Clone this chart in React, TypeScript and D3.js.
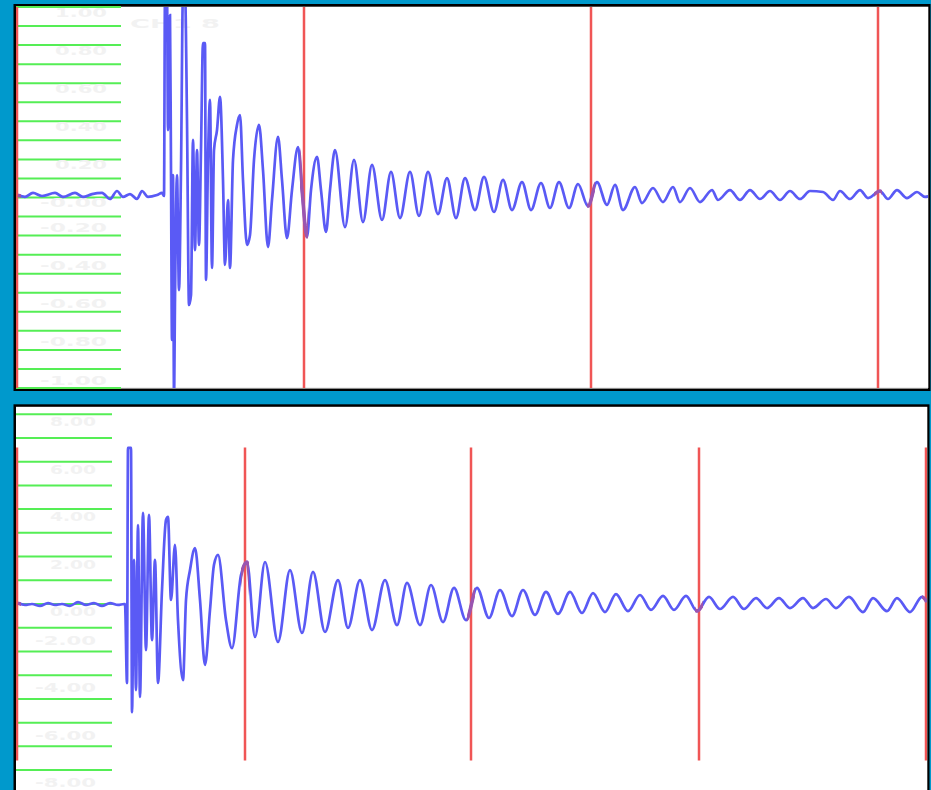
import React from 'react';
import * as d3 from 'd3';

// ---------- data ----------
// Top channel: time (ms) and amplitude (V)
const topTime = [
  0.2, 0.9, 1.7, 2.6, 3.9, 4.7, 5.9, 6.7, 7.6, 8.6, 9.4, 10.1, 10.7, 11.4, 12.1, 12.6, 13.2, 14.1, 14.6,
  14.8, 14.9, 15.1, 15.2, 15.4, 15.5, 15.6, 15.7, 15.8, 15.9, 16.1, 16.3, 16.5, 16.7, 16.9, 17.1, 17.3, 17.5,
  17.7, 17.9, 18.1, 18.3, 18.5, 18.7, 18.9, 19.0, 19.2, 19.4, 19.6, 19.8, 20.1, 20.4, 20.7, 20.9, 21.2, 21.4,
  21.7, 22.1, 22.4, 22.7, 23.1, 23.4, 23.8, 24.3, 24.7, 25.2, 25.6, 26.2, 26.6, 27.1, 27.6, 28.2, 28.6, 29.1,
  29.5, 30.1, 30.5, 31.0, 31.4, 31.9, 32.9, 33.8, 34.7, 35.6, 36.6, 37.5, 38.4, 39.4, 40.3, 41.2, 42.2, 43.1,
  44.0, 44.9, 45.9, 46.8, 47.8, 48.7, 49.6, 50.6, 51.5, 52.5, 53.4, 54.3, 55.3, 56.2, 57.2, 58.1,
  59.1, 59.9, 60.7, 61.9, 62.6, 63.7, 64.7, 65.7, 66.4, 67.4, 68.4, 69.6, 70.2, 71.4, 72.4, 73.4, 74.4, 75.4,
  76.4, 77.4, 78.4, 79.4, 80.7, 81.7, 82.4, 83.4, 84.4, 85.2, 86.4, 87.2, 88.1, 89.1, 90.1, 90.9, 91.4,
];
const topValue = [
  0.013, 0.003, 0.024, 0.008, 0.024, 0.003, 0.024, 0.003, 0.018, 0.024, -0.008, 0.034, 0.003, 0.018, -0.008, 0.034, 0.003, 0.013, 0.024,
  0.008, 1.08, 1.08, 0.354, 0.958, 0.144, -0.748, 0.118, -1.05, -0.538, 0.118, -0.486, 0.144, 1.08, 1.08, 0.407, -0.564, -0.512,
  0.302, -0.276, 0.249, -0.249, 0.249, 0.811, 0.811, -0.433, 0.197, 0.512, -0.37, 0.249, 0.354, 0.528, 0.092, -0.354, -0.013, -0.37,
  0.197, 0.381, 0.433, 0.092, -0.249, -0.197, 0.197, 0.381, 0.144, -0.26, -0.013, 0.318, 0.092, -0.213, 0.039, 0.265, 0.039, -0.207,
  0.039, 0.213, 0.039, -0.181, 0.039, 0.249, -0.155, 0.197, -0.129, 0.171, -0.118, 0.134, -0.108, 0.134, -0.097, 0.134, -0.087, 0.102,
  -0.108, 0.102, -0.066, 0.108, -0.076, 0.092, -0.066, 0.081, -0.066, 0.076, -0.055, 0.081, -0.055, 0.071, -0.045, 0.081,
  -0.039, 0.066, -0.066, 0.055, -0.029, 0.05, -0.024, 0.055, -0.024, 0.05, -0.024, 0.039, -0.013, 0.039, -0.013, 0.039, -0.008, 0.034,
  -0.013, 0.034, -0.008, 0.034, 0.029, -0.013, 0.034, -0.008, 0.039, -0.003, 0.034, -0.008, 0.039, -0.003, 0.029, 0.003, 0.008,
];

// Bottom channel: time (ms) and amplitude (V)
const botTime = [
  0.2, 0.9, 1.6, 2.4, 3.2, 3.9, 4.6, 5.4, 6.2, 7.0, 7.8, 8.6, 9.4, 10.2, 10.8,
  10.9, 11.1, 11.2, 11.5, 11.6, 11.8, 12.0, 12.2, 12.4, 12.7, 13.0, 13.3, 13.6, 13.9, 14.2, 14.6, 15.0, 15.2,
  15.5, 15.9, 16.2, 16.7, 17.0, 17.4, 17.9, 18.4, 18.9, 19.4, 19.8, 20.2, 21.0, 21.6, 22.5, 23.1, 23.9, 24.9,
  26.2, 27.4, 28.6, 29.7, 30.9, 32.2, 33.2, 34.4, 35.6, 36.9, 38.1, 39.1, 40.4, 41.5, 42.7, 43.8, 45.0, 46.1,
  47.3, 48.4, 49.6, 50.7, 51.9, 53.0, 54.2, 55.4, 56.6, 57.7, 58.9, 60.0, 61.2, 62.4, 63.5, 64.7, 65.8, 67.0,
  68.1, 69.3, 70.4, 71.7, 72.8, 74.0, 75.1, 76.3, 77.4, 78.7, 79.7, 81.0, 82.0, 83.3, 84.7, 85.7, 87.1, 88.1,
  89.4, 90.6, 91.1,
];
const botValue = [
  0.04, -0.04, 0, -0.08, 0.04, -0.04, 0, -0.08, 0.08, -0.04, 0.04, -0.08, 0.04, -0.04, 0,
  0, -3.33, 6.58, 6.58, -4.56, 1.86, -3.63, 3.33, -3.92, 3.84, -1.94, 3.76, -1.52, 1.86, -3.33, 0.59, 3.54, 3.67,
  0.17, 2.49, -0.68, -3.21, 0.17, 1.43, 2.36, 0.17, -2.57, -0.25, 1.65, 2.07, -0.68, -1.86, 1.22, 1.77, -1.39, 1.77,
  -1.6, 1.43, -1.22, 1.35, -1.18, 1.01, -1.01, 1.01, -1.1, 1.01, -0.89, 0.89, -0.89, 0.8, -0.76, 0.68, -0.68, 0.68,
  -0.59, 0.59, -0.51, 0.59, -0.46, 0.51, -0.42, 0.51, -0.38, 0.46, -0.34, 0.42, -0.3, 0.38, -0.25, 0.34, -0.25, 0.34,
  -0.3, 0.3, -0.21, 0.3, -0.21, 0.25, -0.17, 0.25, -0.17, 0.25, -0.17, 0.21, -0.17, 0.3, -0.34, 0.25, -0.3, 0.25,
  -0.34, 0.3, 0.08,
];

// cursors (ms)
const topCursors = [0.1, 28.8, 57.5, 86.2];
const botCursors = [0.1, 22.9, 45.5, 68.3, 91.0];

// grid & tick labels
const topGrid = [1, 0.9, 0.8, 0.7, 0.6, 0.5, 0.4, 0.3, 0.2, 0.1, 0, -0.1, -0.2, -0.3, -0.4, -0.5, -0.6, -0.7, -0.8, -0.9, -1];
const topTickValues = [1, 0.8, 0.6, 0.4, 0.2, 0, -0.2, -0.4, -0.6, -0.8, -1];
const topTickLabels = ['1.00', '0.80', '0.60', '0.40', '0.20', '-0.00', '-0.20', '-0.40', '-0.60', '-0.80', '-1.00'];
const botGrid = [8, 7, 6, 5, 4, 3, 2, 1, 0, -1, -2, -3, -4, -5, -6, -7];
const botTickValues = [8, 6, 4, 2, 0, -2, -4, -6, -8];
const botTickLabels = ['8.00', '6.00', '4.00', '2.00', '0.00', '-2.00', '-4.00', '-6.00', '-8.00'];
const channelTitle = ['CH1  8'];

export default function App() {
  const width = 931;
  const height = 790;
  const BG = '#0099cc';
  const WAVE = '#5a5af5';
  const RED = '#f05555';
  const GREEN = '#55ee55';
  const PURPLE = '#9a55b0';
  const LABEL = '#f2f2f2';

  const xTop = d3.scaleLinear().domain([0, 91.4]).range([16, 930]);
  const yTop = d3.scaleLinear().domain([-1, 1]).range([388, 7]);
  const xBot = d3.scaleLinear().domain([0, 91.4]).range([16, 930]);
  const yBot = d3.scaleLinear().domain([-8, 8]).range([793.8, 414.2]);

  const topPath = d3
    .line<number>()
    .curve(d3.curveMonotoneX)
    .x((_, i) => xTop(topTime[i]))
    .y((d) => yTop(d))(topValue) as string;
  const botPath = d3
    .line<number>()
    .curve(d3.curveMonotoneX)
    .x((_, i) => xBot(botTime[i]))
    .y((d) => yBot(d))(botValue) as string;

  const label = (text: string, right: number, y: number, digitsW: number, key: string) => {
    const neg = text.startsWith('-');
    const w = neg ? digitsW + 15 : digitsW;
    return (
      <text
        key={key}
        x={right - w}
        y={y}
        textLength={w}
        lengthAdjust="spacingAndGlyphs"
        fontFamily="DejaVu Sans, sans-serif"
        fontWeight="bold"
        fontSize={12}
        fill={LABEL}
        dominantBaseline="central"
      >
        {text}
      </text>
    );
  };

  return (
    <svg width={width} height={height} style={{ position: 'absolute', left: 0, top: 0, display: 'block' }}>
      <defs>
        <clipPath id="clipTop">
          <rect x={16} y={7} width={912} height={381} />
        </clipPath>
        <clipPath id="clipBot">
          <rect x={16} y={407} width={911} height={383} />
        </clipPath>
        {topCursors.map((c, i) => (
          <clipPath id={`ct${i}`} key={i}>
            <rect x={xTop(c) - 4} y={7} width={8} height={381} />
          </clipPath>
        ))}
        {botCursors.map((c, i) => (
          <clipPath id={`cb${i}`} key={i}>
            <rect x={xBot(c) - 4} y={407} width={8} height={383} />
          </clipPath>
        ))}
      </defs>
      <rect x={0} y={0} width={width} height={height} fill={BG} />

      {/* ---------- top panel ---------- */}
      <rect x={13.5} y={4} width={917} height={387} fill="#000" />
      <rect x={16} y={6.7} width={912.3} height={381.3} fill="#fff" />
      <line x1={16} x2={928} y1={388.2} y2={388.2} stroke="#cccccc" strokeWidth={1} />
      <g>
        {topGrid.map((v, i) => (
          <line key={i} x1={16} x2={121} y1={yTop(v)} y2={yTop(v)} stroke={GREEN} strokeWidth={2} />
        ))}
        {topTickValues.map((v, i) =>
          label(topTickLabels[i], 107, yTop(v) + (v >= 0 ? 5.5 : -7.5), 52, `tl${i}`)
        )}
        <text
          x={130}
          y={24}
          textLength={90}
          lengthAdjust="spacingAndGlyphs"
          fontFamily="DejaVu Sans, sans-serif"
          fontWeight="bold"
          fontSize={12}
          fill={LABEL}
          dominantBaseline="central"
        >
          {channelTitle[0]}
        </text>
      </g>
      <g clipPath="url(#clipTop)">
        <path d={topPath} fill="none" stroke={WAVE} strokeWidth={2.7} strokeLinejoin="miter" />
        {topCursors.map((c, i) => (
          <line key={i} x1={xTop(c)} x2={xTop(c)} y1={7} y2={388} stroke={RED} strokeWidth={2.5} />
        ))}
        {topCursors.map((c, i) => (
          <path key={i} d={topPath} clipPath={`url(#ct${i})`} fill="none" stroke={PURPLE} strokeWidth={3.5} />
        ))}
      </g>

      {/* ---------- bottom panel ---------- */}
      <rect x={13.5} y={404.3} width={916} height={400} fill="#000" />
      <rect x={16} y={406.8} width={911.3} height={400} fill="#fff" />
      <g>
        {botGrid.map((v, i) => (
          <line key={i} x1={16} x2={112} y1={yBot(v)} y2={yBot(v)} stroke={GREEN} strokeWidth={2} />
        ))}
        {botTickValues.map((v, i) =>
          label(botTickLabels[i], 96, yBot(v) + (v >= 0 ? 8 : -10.5), 46, `bl${i}`)
        )}
      </g>
      <g clipPath="url(#clipBot)">
        <path d={botPath} fill="none" stroke={WAVE} strokeWidth={2.7} strokeLinejoin="miter" />
        {botCursors.map((c, i) => (
          <line key={i} x1={xBot(c)} x2={xBot(c)} y1={yBot(6.6)} y2={yBot(-6.6)} stroke={RED} strokeWidth={2.5} />
        ))}
        {botCursors.map((c, i) => (
          <path key={i} d={botPath} clipPath={`url(#cb${i})`} fill="none" stroke={PURPLE} strokeWidth={3.5} />
        ))}
      </g>
    </svg>
  );
}
